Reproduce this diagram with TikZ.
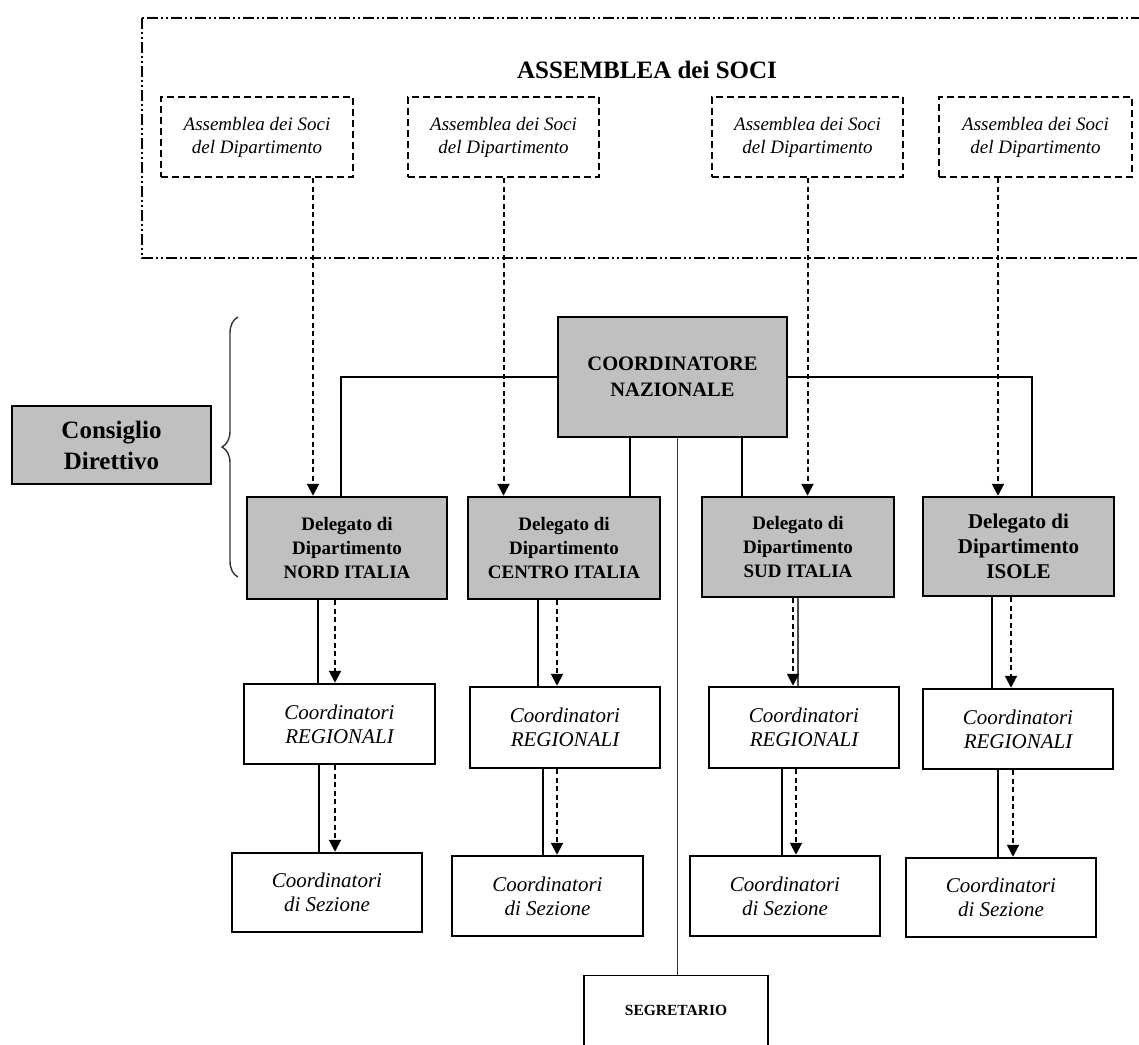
\documentclass[tikz,border=0pt]{standalone}
\usepackage{fontspec}
\setmainfont{Liberation Serif}
\usetikzlibrary{arrows.meta,decorations.pathreplacing}
\definecolor{boxgray}{RGB}{192,192,192}
\begin{document}
\begin{tikzpicture}[x=1pt,y=-1pt,
  graybox/.style={draw,line width=2.5pt,fill=boxgray,align=center,inner sep=0pt,
    font=\bfseries\fontsize{19}{24}\selectfont},
  whitebox/.style={draw,line width=2.5pt,fill=white,align=center,inner sep=0pt,
    font=\itshape\fontsize{21}{24}\selectfont},
  assbox/.style={draw,line width=2.3pt,dash pattern=on 7pt off 4pt,align=center,inner sep=0pt,
    minimum height=80pt,font=\itshape\fontsize{19}{23}\selectfont},
  solidline/.style={line width=2.3pt},
  dasharrow/.style={line width=2pt,dash pattern=on 5pt off 3.5pt,-{Triangle[length=12pt,width=12pt]}},
  thinline/.style={line width=1.1pt}
]
\useasboundingbox (0,0) rectangle (1139,1044);
\clip (0,0) rectangle (1139,1044);
\fill[white] (0,0) rectangle (1139,1044);

% outer assembly frame
\draw[line width=2.3pt,dash pattern=on 11pt off 3pt on 2pt off 3pt on 2pt off 3pt]
  (142,18) rectangle (1170,258);
\node[font=\bfseries\fontsize{25}{30}\selectfont] (title) at (647,70) {ASSEMBLEA dei SOCI};

\node[assbox,minimum width=192pt] (a1) at (257,137) {Assemblea dei Soci\\del Dipartimento};
\node[assbox,minimum width=191pt] (a2) at (503.5,137) {Assemblea dei Soci\\del Dipartimento};
\node[assbox,minimum width=191pt] (a3) at (807.5,137) {Assemblea dei Soci\\del Dipartimento};
\node[assbox,minimum width=193pt] (a4) at (1035.5,137) {Assemblea dei Soci\\del Dipartimento};

% Consiglio Direttivo
\node[graybox,minimum width=199pt,minimum height=78pt,font=\bfseries\fontsize{25}{31}\selectfont]
  (cons) at (111.5,445) {Consiglio\\Direttivo};
\draw[line width=1.4pt,black!80,decorate,decoration={brace,amplitude=16pt}] (238,577) -- (238,317);

% Coordinatore
\node[graybox,minimum width=229pt,minimum height=120pt,font=\bfseries\fontsize{20.5}{26}\selectfont]
  (coord) at (672.5,377) {COORDINATORE\\NAZIONALE};

% Delegati
\node[graybox,minimum width=200pt,minimum height=102pt] (nord) at (347,548) {Delegato di\\Dipartimento\\NORD ITALIA};
\node[graybox,minimum width=192pt,minimum height=102pt] (centro) at (564,548) {Delegato di\\Dipartimento\\CENTRO ITALIA};
\node[graybox,minimum width=192pt,minimum height=100pt] (sud) at (798,547) {Delegato di\\Dipartimento\\SUD ITALIA};
\node[graybox,minimum width=191pt,minimum height=99pt,font=\bfseries\fontsize{21}{25}\selectfont]
  (isole) at (1018.5,546.5) {Delegato di\\Dipartimento\\ISOLE};

% Regionali
\node[whitebox,minimum width=191pt,minimum height=80pt] (reg1) at (339.5,724) {Coordinatori\\REGIONALI};
\node[whitebox,minimum width=190pt,minimum height=81pt] (reg2) at (565,727.5) {Coordinatori\\REGIONALI};
\node[whitebox,minimum width=190pt,minimum height=81pt] (reg3) at (804,727.5) {Coordinatori\\REGIONALI};
\node[whitebox,minimum width=190pt,minimum height=80pt] (reg4) at (1018,729) {Coordinatori\\REGIONALI};

% Sezione
\node[whitebox,minimum width=190pt,minimum height=79pt] (sez1) at (327,892.5) {Coordinatori\\di Sezione};
\node[whitebox,minimum width=191pt,minimum height=80pt] (sez2) at (547.5,896) {Coordinatori\\di Sezione};
\node[whitebox,minimum width=190pt,minimum height=80pt] (sez3) at (785,896) {Coordinatori\\di Sezione};
\node[whitebox,minimum width=190pt,minimum height=79pt] (sez4) at (1001,897.5) {Coordinatori\\di Sezione};

% Segretario
\node[draw,thinline,minimum width=184pt,minimum height=70pt,anchor=north,inner sep=0pt,
  font=\bfseries\fontsize{15.5}{18}\selectfont] (seg) at (676,975) {SEGRETARIO};

% assembly arrows
\draw[dasharrow] ([xshift=56pt]a1.south) -- ([xshift=56pt]a1.south |- nord.north);
\draw[dasharrow] (a2.south) -- (a2.south |- centro.north);
\draw[dasharrow] (a3.south) -- (a3.south |- sud.north);
\draw[dasharrow] ([xshift=-37.5pt]a4.south) -- ([xshift=-37.5pt]a4.south |- isole.north);

% coordinatore links
\draw[solidline] (coord.west) -| ([xshift=-6pt]nord.north);
\draw[solidline] (coord.east) -| ([xshift=13.5pt]isole.north);
\draw[solidline] ([xshift=-42.5pt]coord.south) -- ([xshift=-42.5pt]coord.south |- centro.north);
\draw[solidline] ([xshift=69.5pt]coord.south) -- ([xshift=69.5pt]coord.south |- sud.north);
\draw[thinline,black!80] ([xshift=5pt]coord.south) -- ([xshift=5pt]coord.south |- seg.north);

% NORD
\draw[solidline] ([xshift=-29pt]nord.south) -- ([xshift=-29pt]nord.south |- reg1.north);
\draw[dasharrow] ([xshift=-12pt]nord.south) -- ([xshift=-12pt]nord.south |- reg1.north);
\draw[solidline] ([xshift=-20.5pt]reg1.south) -- ([xshift=-20.5pt]reg1.south |- sez1.north);
\draw[dasharrow] ([xshift=-4.5pt]reg1.south) -- ([xshift=-4.5pt]reg1.south |- sez1.north);
% CENTRO
\draw[solidline] ([xshift=-26pt]centro.south) -- ([xshift=-26pt]centro.south |- reg2.north);
\draw[dasharrow] ([xshift=-7pt]centro.south) -- ([xshift=-7pt]centro.south |- reg2.north);
\draw[solidline] ([xshift=-22pt]reg2.south) -- ([xshift=-22pt]reg2.south |- sez2.north);
\draw[dasharrow] ([xshift=-8pt]reg2.south) -- ([xshift=-8pt]reg2.south |- sez2.north);
% SUD
\draw[line width=1.5pt,black!70] (sud.south) -- (sud.south |- reg3.north);
\draw[dasharrow] ([xshift=-5pt]sud.south) -- ([xshift=-5pt]sud.south |- reg3.north);
\draw[solidline] ([xshift=-22pt]reg3.south) -- ([xshift=-22pt]reg3.south |- sez3.north);
\draw[dasharrow] ([xshift=-8pt]reg3.south) -- ([xshift=-8pt]reg3.south |- sez3.north);
% ISOLE
\draw[solidline] ([xshift=-26.5pt]isole.south) -- ([xshift=-26.5pt]isole.south |- reg4.north);
\draw[dasharrow] ([xshift=-7.5pt]isole.south) -- ([xshift=-7.5pt]isole.south |- reg4.north);
\draw[solidline] ([xshift=-20pt]reg4.south) -- ([xshift=-20pt]reg4.south |- sez4.north);
\draw[dasharrow] ([xshift=-5pt]reg4.south) -- ([xshift=-5pt]reg4.south |- sez4.north);
\end{tikzpicture}
\end{document}
